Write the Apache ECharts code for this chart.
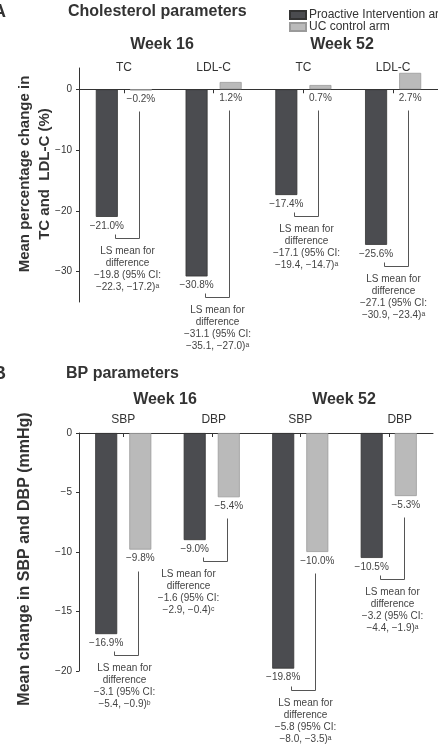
<!DOCTYPE html>
<html><head><meta charset="utf-8">
<script src="https://cdn.jsdelivr.net/npm/echarts@6/dist/echarts.min.js"></script>
<style>html,body{margin:0;padding:0;background:#fff}#c{width:438px;height:744px}</style>
</head><body><div id="c"></div>
<script>
// ---- Data ----
const seriesNames = ['Proactive Intervention arm', 'UC control arm'];

const cholCategories = ['TC', 'LDL-C', 'TC', 'LDL-C'];
const cholProactive = [-21.0, -30.8, -17.4, -25.6];
const cholUC = [-0.2, 1.2, 0.7, 2.7];
const cholDiff = [-19.8, -31.1, -17.1, -27.1];
const cholCILow = [-22.3, -35.1, -19.4, -30.9];
const cholCIHigh = [-17.2, -27.0, -14.7, -23.4];
const cholNote = ['a', 'a', 'a', 'a'];
const cholTicks = [-30, -20, -10, 0];

const bpCategories = ['SBP', 'DBP', 'SBP', 'DBP'];
const bpProactive = [-16.9, -9.0, -19.8, -10.5];
const bpUC = [-9.8, -5.4, -10.0, -5.3];
const bpDiff = [-3.1, -1.6, -5.8, -3.2];
const bpCILow = [-5.4, -2.9, -8.0, -4.4];
const bpCIHigh = [-0.9, -0.4, -3.5, -1.9];
const bpNote = ['b', 'c', 'a', 'a'];

// ---- Style ----
const FONT = '"Liberation Sans", Arial, sans-serif';
const DARK = '#4b4c50';
const LIGHT = '#bababa';
const TXT = '#333';
const BAR_W = 22;
const HALF_PAIR = 17;
const cholTextDx = [0, 0, 0, -3];
const bpTextDx = [-2, -27, 2, 0];
const bpLabelShift = [0, 4, 0, 22];

const fmtNum = v => (v < 0 ? '\u2212' + Math.abs(v).toFixed(1) : v.toFixed(1));
const fmtTick = v => (v < 0 ? '\u2212' + Math.abs(v) : String(v));
const sup = { a: '\u1d43', b: '\u1d47', c: '\u1d9c' };

function barSeries(name, data, xi, yi, color, border) {
  return {
    name, type: 'bar', xAxisIndex: xi, yAxisIndex: yi, data,
    barWidth: BAR_W, barGap: '55%',
    itemStyle: { color, borderColor: border, borderWidth: 0.8 },
    label: {
      show: true, position: 'bottom', distance: 4,
      formatter: p => fmtNum(p.value) + '%',
      fontSize: 10, color: '#444', fontFamily: FONT
    }
  };
}

function bracketSeries(xi, yi, dark, light, diff, lo, hi, note, textDx) {
  return {
    type: 'custom', xAxisIndex: xi, yAxisIndex: yi, z: 5, silent: true,
    data: dark.map((d, i) => [i, d, light[i]]),
    encode: { x: 0, y: 1 },
    renderItem(params, api) {
      const i = params.dataIndex;
      const cx = api.coord([i, 0])[0];
      const yDark = api.coord([i, dark[i]])[1];
      const yLight = api.coord([i, Math.min(light[i], 0)])[1];
      const lx = Math.round(cx + HALF_PAIR - 2) + 0.5;
      const dx = Math.round(cx - HALF_PAIR + 8) + 0.5;
      const yTop = Math.round(yLight + 21) + 0.5;
      const yBot = Math.round(yDark + 21) + 0.5;
      const txt = 'LS mean for\ndifference\n' + fmtNum(diff[i]) + ' (95% CI:\n' +
        fmtNum(lo[i]) + ', ' + fmtNum(hi[i]) + ')' + sup[note[i]];
      return {
        type: 'group', children: [
          { type: 'polyline', shape: { points: [[lx, yTop], [lx, yBot], [dx, yBot], [dx, yBot - 4]] },
            style: { stroke: '#555', fill: null, lineWidth: 1 } },
          { type: 'text', style: { text: txt, x: (lx + dx) / 2 + textDx[i], y: yBot + 7,
            align: 'center', verticalAlign: 'top', textAlign: 'center', textVerticalAlign: 'top',
            font: '10px ' + FONT, fill: '#444', lineHeight: 12 } }
        ]
      };
    }
  };
}

function mainX(gi, cats) {
  return {
    gridIndex: gi, type: 'category', data: cats, position: 'bottom',
    axisLine: { onZero: true, lineStyle: { color: TXT, width: 1 } },
    axisTick: { show: true, alignWithLabel: true, length: 4, lineStyle: { color: TXT } },
    axisLabel: { show: false }, splitLine: { show: false }
  };
}
function labelX(gi, cats, margin, shift) {
  return {
    gridIndex: gi, type: 'category', data: cats, position: 'top',
    axisLine: { show: false, onZero: false }, axisTick: { show: false },
    axisLabel: {
      show: true, margin, fontSize: 12, color: TXT, fontFamily: FONT,
      formatter: (v, i) => (shift && shift[i] ? '{s' + i + '|' + v + '}' : v),
      rich: shift ? Object.fromEntries(shift.map((s, i) => ['s' + i,
        { padding: [0, 0, 0, s], fontSize: 12, color: TXT, fontFamily: FONT }])) : {}
    },
    splitLine: { show: false }
  };
}

const chart = echarts.init(document.getElementById('c'), null, { renderer: 'canvas' });

const titleText = (text, x, y, size, align) => ({
  type: 'text', x, y,
  style: { text, font: 'bold ' + size + 'px ' + FONT, fill: TXT,
    align: align || 'left', verticalAlign: 'middle', textAlign: align || 'left', textVerticalAlign: 'middle' }
});

chart.setOption({
  animation: false,
  backgroundColor: '#fff',
  legend: {
    data: seriesNames, left: 284, top: 4, orient: 'vertical',
    itemWidth: 16, itemHeight: 8, itemGap: 0, icon: 'rect',
    textStyle: { fontSize: 12, color: TXT, fontFamily: FONT, padding: [0, 0, 0, -2] }
  },
  grid: [
    { left: 79, right: 0, top: 68, bottom: 442, containLabel: false },
    { left: 79, right: 5, top: 433, bottom: 73, containLabel: false }
  ],
  xAxis: [
    mainX(0, cholCategories), labelX(0, cholCategories, -6, null),
    mainX(1, bpCategories), labelX(1, bpCategories, 7, bpLabelShift)
  ],
  yAxis: [
    { gridIndex: 0, type: 'value', min: -35, max: 3.5,
      axisLine: { show: true, lineStyle: { color: TXT } },
      axisTick: { show: true, length: 3, customValues: cholTicks, lineStyle: { color: TXT } },
      axisLabel: { customValues: cholTicks, formatter: fmtTick, fontSize: 10, color: TXT, fontFamily: FONT, margin: 7 },
      splitLine: { show: false } },
    { gridIndex: 1, type: 'value', min: -20, max: 0, interval: 5,
      axisLine: { show: true, lineStyle: { color: TXT } },
      axisTick: { show: true, length: 3, lineStyle: { color: TXT } },
      axisLabel: { formatter: fmtTick, fontSize: 10, color: TXT, fontFamily: FONT, margin: 7 },
      splitLine: { show: false } }
  ],
  series: [
    barSeries(seriesNames[0], cholProactive, 0, 0, DARK, '#333'),
    barSeries(seriesNames[1], cholUC, 0, 0, LIGHT, '#9a9a9a'),
    bracketSeries(0, 0, cholProactive, cholUC, cholDiff, cholCILow, cholCIHigh, cholNote, cholTextDx),
    barSeries(seriesNames[0], bpProactive, 2, 1, DARK, '#333'),
    barSeries(seriesNames[1], bpUC, 2, 1, LIGHT, '#9a9a9a'),
    bracketSeries(2, 1, bpProactive, bpUC, bpDiff, bpCILow, bpCIHigh, bpNote, bpTextDx)
  ],
  graphic: [
    titleText('A', -7, 12, 18),
    titleText('Cholesterol parameters', 68, 12, 16),
    titleText('Week 16', 162, 45, 16, 'center'),
    titleText('Week 52', 342, 45, 16, 'center'),
    titleText('B', -7, 374, 18),
    titleText('BP parameters', 66, 374, 16),
    titleText('Week 16', 165, 400, 16, 'center'),
    titleText('Week 52', 344, 400, 16, 'center'),
    { type: 'text', x: 25, y: 174, rotation: Math.PI / 2,
      style: { text: 'Mean percentage change in', font: 'bold 15px ' + FONT, fill: TXT,
        align: 'center', verticalAlign: 'middle', textAlign: 'center', textVerticalAlign: 'middle' } },
    { type: 'text', x: 45, y: 174, rotation: Math.PI / 2,
      style: { text: 'TC and  LDL-C (%)', font: 'bold 15px ' + FONT, fill: TXT,
        align: 'center', verticalAlign: 'middle', textAlign: 'center', textVerticalAlign: 'middle' } },
    { type: 'text', x: 25, y: 559, rotation: Math.PI / 2,
      style: { text: 'Mean change in SBP and DBP (mmHg)', font: 'bold 16px ' + FONT, fill: TXT,
        align: 'center', verticalAlign: 'middle', textAlign: 'center', textVerticalAlign: 'middle' } }
  ]
});
</script>
</body></html>
